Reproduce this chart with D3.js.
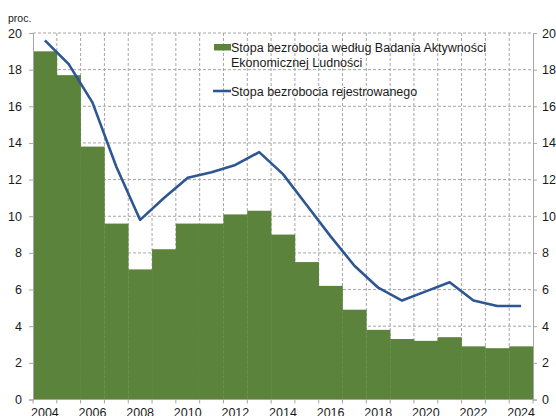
<!DOCTYPE html>
<html>
<head>
<meta charset="utf-8">
<script src="https://cdn.jsdelivr.net/npm/d3@7"></script>
<style>
  body { margin: 0; background: #fff; }
  svg { font-family: "Liberation Sans", Arial, sans-serif; }
</style>
</head>
<body>
<svg id="chart" width="556" height="416"></svg>
<script>
// Years on the x axis
const years = d3.range(2004, 2025);

// Stopa bezrobocia wg BAEL (bars)
const baelRate = [19.0, 17.7, 13.8, 9.6, 7.1, 8.2, 9.6, 9.6, 10.1, 10.3, 9.0,
  7.5, 6.2, 4.9, 3.8, 3.3, 3.2, 3.4, 2.9, 2.8, 2.9];

// Stopa bezrobocia rejestrowanego (line)
const registeredRate = [19.6, 18.3, 16.2, 12.7, 9.8, 11.0, 12.1, 12.4, 12.8, 13.5, 12.3,
  10.6, 8.9, 7.3, 6.1, 5.4, 5.9, 6.4, 5.4, 5.1, 5.1];

const yTicks = [0, 2, 4, 6, 8, 10, 12, 14, 16, 18, 20];

const width = 556;
const height = 416;
const margin = { top: 33, right: 23, bottom: 16.5, left: 33 };

const svg = d3.select("#chart");

const x = d3.scaleBand()
  .domain(years)
  .range([margin.left, width - margin.right])
  .padding(0);

const y = d3.scaleLinear()
  .domain([0, 20])
  .range([height - margin.bottom, margin.top]);

const gridColor = "#a6a6a6";
const axisColor = "#a6a6a6";

// Horizontal grid lines
svg.append("g")
  .selectAll("line")
  .data(yTicks.filter((d) => d > 0))
  .enter()
  .append("line")
  .attr("x1", margin.left)
  .attr("x2", width - margin.right)
  .attr("y1", (d) => y(d))
  .attr("y2", (d) => y(d))
  .attr("stroke", gridColor)
  .attr("stroke-width", 1)
  .attr("stroke-dasharray", "3,2");

// Vertical grid lines at category boundaries
svg.append("g")
  .selectAll("line")
  .data(years.slice(1))
  .enter()
  .append("line")
  .attr("x1", (d) => x(d))
  .attr("x2", (d) => x(d))
  .attr("y1", margin.top)
  .attr("y2", height - margin.bottom)
  .attr("stroke", gridColor)
  .attr("stroke-width", 1)
  .attr("stroke-dasharray", "3,2");

// Bars
svg.append("g")
  .selectAll("rect")
  .data(years)
  .enter()
  .append("rect")
  .attr("x", (d) => x(d))
  .attr("width", x.bandwidth() + 0.3)
  .attr("y", (d, i) => y(baelRate[i]))
  .attr("height", (d, i) => y(0) - y(baelRate[i]))
  .attr("fill", "#5b833c");

// Line
const line = d3.line()
  .x((d) => x(d) + x.bandwidth() / 2)
  .y((d, i) => y(registeredRate[i]));

svg.append("path")
  .datum(years)
  .attr("d", line)
  .attr("fill", "none")
  .attr("stroke", "#2d5693")
  .attr("stroke-width", 2.6)
  .attr("stroke-linejoin", "round");

// Left axis
const leftAxis = svg.append("g")
  .attr("transform", `translate(${margin.left},0)`)
  .call(d3.axisLeft(y).tickValues(yTicks).tickSize(4).tickPadding(7));

// Right axis
const rightAxis = svg.append("g")
  .attr("transform", `translate(${width - margin.right},0)`)
  .call(d3.axisRight(y).tickValues(yTicks).tickSize(4).tickPadding(5));

// Bottom axis: ticks at category boundaries, labels every other year
const bottom = svg.append("g")
  .attr("transform", `translate(0,${height - margin.bottom})`);

bottom.append("line")
  .attr("x1", margin.left)
  .attr("x2", width - margin.right)
  .attr("stroke", axisColor);

bottom.selectAll(".tick")
  .data(years.concat([2025]))
  .enter()
  .append("line")
  .attr("x1", (d) => (d === 2025 ? width - margin.right : x(d)))
  .attr("x2", (d) => (d === 2025 ? width - margin.right : x(d)))
  .attr("y1", 0)
  .attr("y2", 4)
  .attr("stroke", axisColor);

bottom.selectAll("text")
  .data(years.filter((d) => d % 2 === 0))
  .enter()
  .append("text")
  .attr("x", (d) => x(d) + x.bandwidth() / 2)
  .attr("y", 17)
  .attr("text-anchor", "middle")
  .attr("font-size", 12.5)
  .attr("fill", "#1a1a1a")
  .text((d) => d);

[leftAxis, rightAxis].forEach((g) => {
  g.select(".domain").attr("stroke", axisColor);
  g.selectAll(".tick line").attr("stroke", axisColor);
  g.selectAll(".tick text")
    .attr("font-size", 12.5)
    .attr("fill", "#1a1a1a")
    .attr("font-family", "Liberation Sans, Arial, sans-serif");
});

// Unit label
svg.append("text")
  .attr("x", 8)
  .attr("y", 22)
  .attr("font-size", 10.5)
  .attr("fill", "#1a1a1a")
  .text("proc.");

// Legend
const legend = svg.append("g");

legend.append("rect")
  .attr("x", 214)
  .attr("y", 44)
  .attr("width", 17)
  .attr("height", 6.5)
  .attr("fill", "#5b833c");

legend.append("text")
  .attr("x", 231)
  .attr("y", 52)
  .attr("font-size", 12.5)
  .attr("fill", "#1a1a1a")
  .text("Stopa bezrobocia według Badania Aktywności");

legend.append("text")
  .attr("x", 231)
  .attr("y", 67)
  .attr("font-size", 12.5)
  .attr("fill", "#1a1a1a")
  .text("Ekonomicznej Ludności");

legend.append("line")
  .attr("x1", 213)
  .attr("x2", 231)
  .attr("y1", 91)
  .attr("y2", 91)
  .attr("stroke", "#2d5693")
  .attr("stroke-width", 2.6);

legend.append("text")
  .attr("x", 231)
  .attr("y", 96)
  .attr("font-size", 12.5)
  .attr("fill", "#1a1a1a")
  .text("Stopa bezrobocia rejestrowanego");
</script>
</body>
</html>
